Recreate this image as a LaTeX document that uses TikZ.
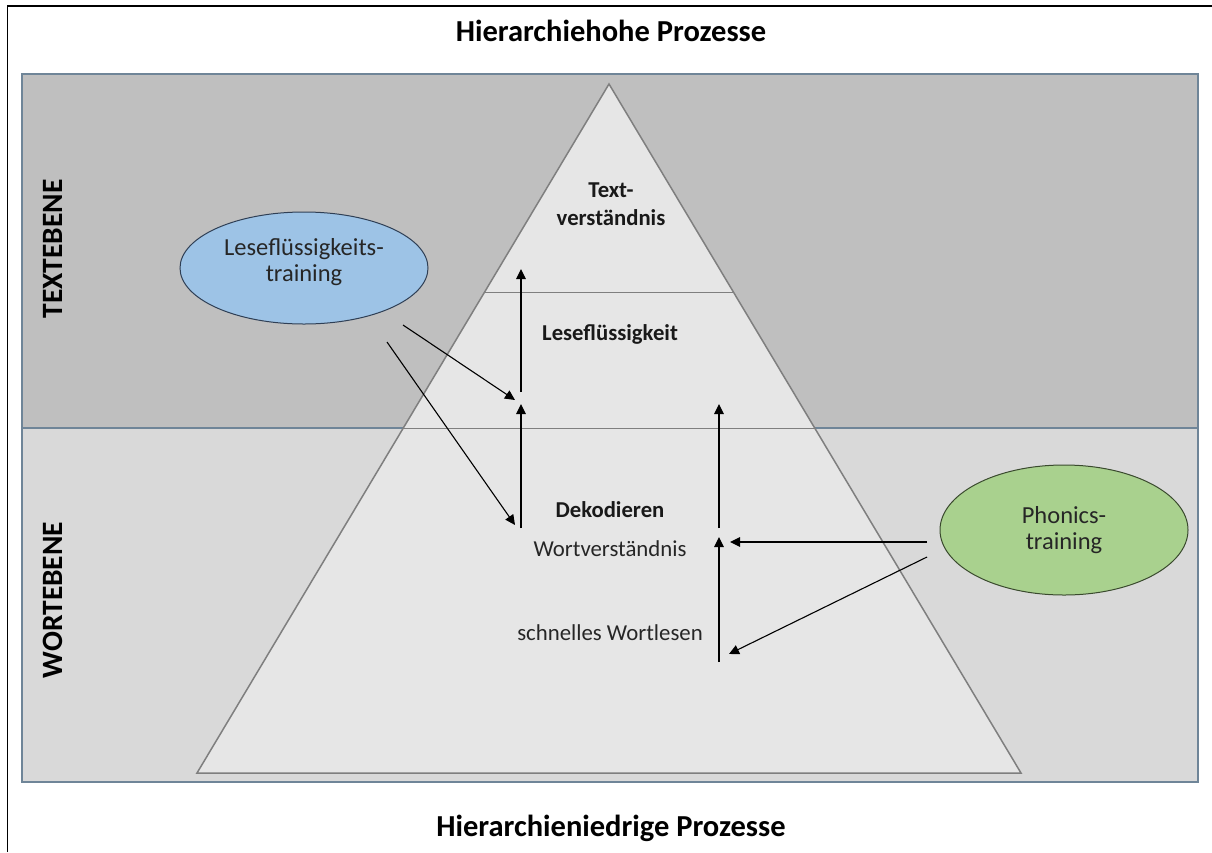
\documentclass[tikz,border=0pt]{standalone}
\usepackage{fontspec}
\setmainfont{Carlito}
\usetikzlibrary{arrows.meta,shapes.geometric}
\definecolor{topgray}{HTML}{BFBFBF}
\definecolor{botgray}{HTML}{D9D9D9}
\definecolor{trifill}{HTML}{E6E6E6}
\definecolor{tristroke}{HTML}{7F7F7F}
\definecolor{rectborder}{HTML}{6F8598}
\definecolor{bluefill}{HTML}{9DC3E6}
\definecolor{bluestroke}{HTML}{2F3F55}
\definecolor{greenfill}{HTML}{A9D18E}
\definecolor{greenstroke}{HTML}{3A4A2E}
\tikzset{
  title/.style={font=\fontsize{30.5}{36}\selectfont\bfseries, text=black},
  level/.style={font=\fontsize{29.5}{34}\selectfont\bfseries, rotate=90, text=black},
  stage/.style={font=\fontsize{22.7}{28}\selectfont\bfseries, align=center, text=black!90},
  sub/.style={font=\fontsize{22.8}{27}\selectfont, text=black!85},
  oval/.style={ellipse, line width=1pt, minimum width=#1, font=\fontsize{24.5}{26.5}\selectfont, align=center, text=black!85, inner sep=0pt},
  conn/.style={-{Triangle[length=10pt,width=9.5pt]}, line width=1.1pt, black},
}
\begin{document}
\begin{tikzpicture}[x=1pt,y=-1pt]
\useasboundingbox (0,0) rectangle (1212,852);
\fill[white] (0,0) rectangle (1212,852);
\draw[black, line width=1.5pt] (7.5,852) -- (7.5,6) -- (1212,6);
% level bands
\draw[fill=topgray, draw=rectborder, line width=1.2pt] (22,74) rectangle (1198,428);
\draw[fill=botgray, draw=rectborder, line width=1.2pt] (22,428) rectangle (1198,782);
% pyramid
\draw[fill=trifill, draw=tristroke, line width=1.5pt, line join=miter] (609,84) -- (1021,773) -- (197,773) -- cycle;
\draw[tristroke, line width=1pt] (484.6,292) -- (733.4,292);
\draw[tristroke, line width=1pt] (403.3,428) -- (814.7,428);
% titles
\node[title] (top) at (611,31) {Hierarchiehohe Prozesse};
\node[title] (bottom) at (611,828) {Hierarchieniedrige Prozesse};
\node[level] (textebene) at (53,249) {TEXTEBENE};
\node[level] (wortebene) at (53,600) {WORTEBENE};
% stage labels
\node[stage] (tv) at (611,204) {Text-\\verständnis};
\node[stage] (lf) at (610,334) {Leseflüssigkeit};
\node[stage] (dk) at (610,510) {Dekodieren};
\node[sub] (wv) at (610,549) {Wortverständnis};
\node[sub] (sw) at (610,633) {schnelles Wortlesen};
% trainings
\node[oval=248pt, minimum height=112pt, fill=bluefill, draw=bluestroke] (lft) at (304,268) {};
\node[font=\fontsize{24.5}{26.5}\selectfont, align=center, text=black!85] (lftt) at (304,262) {Leseflüssigkeits-\\training};
\node[oval=248pt, minimum height=130pt, fill=greenfill, draw=greenstroke] (pht) at (1064,530) {Phonics-\\training};
% arrow anchors
\coordinate (a1s) at (521,392);
\coordinate (a1e) at (521,269);
\coordinate (a2s) at (521,528);
\coordinate (a2e) at (521,404);
\coordinate (b1s) at (719,528);
\coordinate (b1e) at (719,404);
\coordinate (b2s) at (719,662);
\coordinate (b2e) at (719,537);
\coordinate (l1s) at (403,325);
\coordinate (l1e) at (515,400);
\coordinate (l2s) at (387,342);
\coordinate (l2e) at (515,525);
\coordinate (p1s) at (927,542);
\coordinate (p1e) at (730,542);
\coordinate (p2s) at (927,557);
\coordinate (p2e) at (729,654);
\draw[conn] (a1s) -- (a1e);
\draw[conn] (a2s) -- (a2e);
\draw[conn] (b1s) -- (b1e);
\draw[conn] (b2s) -- (b2e);
\draw[conn] (l1s) -- (l1e);
\draw[conn] (l2s) -- (l2e);
\draw[conn] (p1s) -- (p1e);
\draw[conn] (p2s) -- (p2e);
\end{tikzpicture}
\end{document}
